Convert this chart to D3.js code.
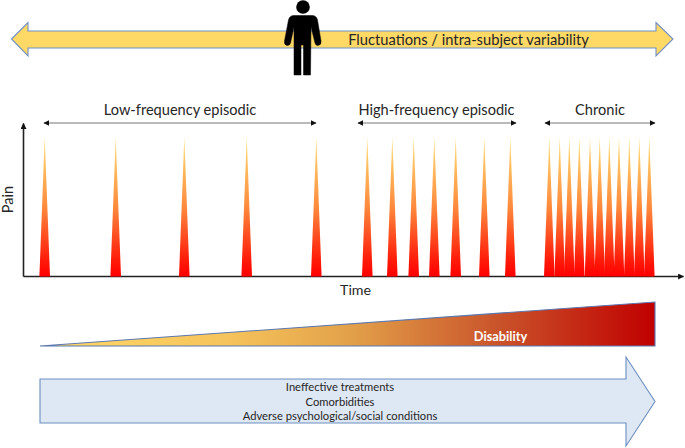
<!DOCTYPE html>
<html lang="en">
<head>
<meta charset="UTF-8">
<title>Pain frequency and disability</title>
<script src="https://d3js.org/d3.v7.min.js"></script>
<style>
    html, body { margin: 0; padding: 0; background: #fff; }
    svg { display: block; }
    text { font-family: Lato, "Open Sans", sans-serif; fill: #262626; }
    .axis path { stroke: #222; stroke-width: 1.6px; }
</style>
</head>
<body>
<div id="chart"></div>
<script>
    // time of each pain episode (x axis has no units)
    const lowEpisodes = [21.7, 92.7, 161.3, 223.7, 293.3];
    const highEpisodes = [344.3, 369.3, 390.7, 411.3, 432.7, 461.3, 487.3];
    const chronicEpisodes = [526.3, 536.7, 546.3, 556.3, 567, 576.7, 586.3, 596, 606.3, 616.3, 626.3];
    const peakPain = 10;

    const phaseNames = ["Low-frequency episodic", "High-frequency episodic", "Chronic"];
    const phaseStart = [21, 335, 522];
    const phaseEnd = [293, 493, 632];

    const factors = ["Ineffective treatments", "Comorbidities", "Adverse psychological/social conditions"];

    const width = 685, height = 448;
    const svg = d3.select("#chart").append("svg")
        .attr("width", width)
        .attr("height", height);
    const defs = svg.append("defs");

    const x = d3.scaleLinear().domain([0, 660]).range([23, 683]);
    const y = d3.scaleLinear().domain([0, 10]).range([276.5, 137]);

    // gradients
    function gradient(id, coords, stops) {
        const g = defs.append("linearGradient")
            .attr("id", id)
            .attr("gradientUnits", "userSpaceOnUse")
            .attr("x1", coords[0]).attr("y1", coords[1])
            .attr("x2", coords[2]).attr("y2", coords[3]);
        stops.forEach(s => g.append("stop")
            .attr("offset", s[0])
            .attr("stop-color", s[1]));
    }
    gradient("spikeFill", [0, y(0), 0, y(peakPain)], [[0, "#ff0000"], [0.12, "#ff1c0a"], [0.5, "#ff8a3c"], [1, "#ffe27a"]]);
    gradient("disabilityFill", [40, 0, 655, 0], [[0, "#ffd966"], [0.3, "#f6c45c"], [0.5, "#e3a24a"], [0.75, "#c9522a"], [1, "#c00000"]]);

    // small arrow heads
    function marker(id, orient) {
        defs.append("marker")
            .attr("id", id)
            .attr("viewBox", "0 0 10 10")
            .attr("refX", 9).attr("refY", 5)
            .attr("markerUnits", "userSpaceOnUse")
            .attr("markerWidth", 6).attr("markerHeight", 6)
            .attr("orient", orient)
            .append("path")
            .attr("d", "M0,0L10,5L0,10Z")
            .attr("fill", "#111");
    }
    marker("headEnd", "auto");
    marker("headStart", "auto-start-reverse");

    function polygon(points, fill, stroke) {
        return svg.append("path")
            .attr("d", d3.line()(points) + "Z")
            .attr("fill", fill)
            .attr("stroke", stroke)
            .attr("stroke-width", 1.1);
    }

    // top arrow
    polygon([[11.5, 39], [28, 22.5], [28, 31], [656, 31], [656, 22.5], [673, 39], [656, 56], [656, 48], [28, 48], [28, 56]],
        "#ffd966", "#6f8fc6");

    // person
    svg.append("circle").attr("cx", 303).attr("cy", 7).attr("r", 6.8).attr("fill", "#000");
    svg.append("path")
        .attr("fill", "#000")
        .attr("stroke", "#000")
        .attr("stroke-width", 0.5)
        .attr("stroke-linejoin", "round")
        .attr("d", "M294,15.5 L312,15.5 Q316.5,15.5 317.5,20 L321,41 Q321.5,45 318,45.5 Q315.5,45.5 315,43 L311,27 L310.5,75 L303.5,75 L303.5,45 L301,45 L301,75 L294,75 L294,27 L290.5,43 Q290,45.5 287,45.5 Q284,45 284.5,41 L288.5,20 Q289.5,15.5 294,15.5 Z");

    svg.append("text")
        .attr("x", 468.5).attr("y", 44.5)
        .attr("text-anchor", "middle")
        .attr("font-size", 14.7)
        .text("Fluctuations / intra-subject variability");

    // phase brackets
    phaseNames.forEach((name, i) => {
        svg.append("line")
            .attr("x1", x(phaseStart[i])).attr("x2", x(phaseEnd[i]))
            .attr("y1", 123).attr("y2", 123)
            .attr("stroke", "#777")
            .attr("stroke-width", 1)
            .attr("marker-start", "url(#headStart)")
            .attr("marker-end", "url(#headEnd)");
        svg.append("text")
            .attr("x", x((phaseStart[i] + phaseEnd[i]) / 2) + (i == 0 ? 0 : i == 1 ? -0.5 : 0))
            .attr("y", 115)
            .attr("text-anchor", "middle")
            .attr("font-size", 14.6)
            .text(name);
    });

    // axes
    const xAxis = svg.append("g")
        .attr("class", "axis")
        .attr("transform", `translate(0,${y(0) - 0.5})`)
        .call(d3.axisBottom(x).tickValues([]).tickSizeOuter(0));
    xAxis.select("path").attr("marker-end", "url(#headEnd)");

    const yAxis = svg.append("g")
        .attr("class", "axis")
        .attr("transform", `translate(${x(0)},0)`)
        .call(d3.axisLeft(d3.scaleLinear().domain([0, 10]).range([276, 123])).tickValues([]).tickSizeOuter(0));
    yAxis.select("path").attr("marker-end", "url(#headEnd)");

    // pain spikes
    const spikeWidth = 5.3;
    const episodes = lowEpisodes.concat(highEpisodes, chronicEpisodes);
    svg.append("g").selectAll("path")
        .data(episodes)
        .enter().append("path")
        .attr("fill", "url(#spikeFill)")
        .attr("d", d => d3.line()([[x(d) - spikeWidth, y(0)], [x(d), y(peakPain)], [x(d) + spikeWidth, y(0)]]) + "Z");

    svg.append("text")
        .attr("x", 355.5).attr("y", 295)
        .attr("text-anchor", "middle")
        .attr("font-size", 14.2)
        .text("Time");

    svg.append("text")
        .attr("transform", "translate(12.5,199.5) rotate(-90)")
        .attr("text-anchor", "middle")
        .attr("font-size", 14.6)
        .text("Pain");

    // disability wedge
    polygon([[40, 346], [655, 302], [655, 346]], "url(#disabilityFill)", "#5b78b0");

    svg.append("text")
        .attr("x", 500.5).attr("y", 340.5)
        .attr("text-anchor", "middle")
        .attr("font-size", 12.8)
        .attr("font-weight", 700)
        .style("fill", "#fff")
        .text("Disability");

    // bottom arrow
    polygon([[40, 379], [626, 379], [626, 357], [655, 401.5], [626, 446], [626, 423], [40, 423]], "#dee8f5", "#6c8ebf");

    svg.append("g").selectAll("text")
        .data(factors)
        .enter().append("text")
        .attr("x", 340)
        .attr("y", (d, i) => 391 + i * 14.6)
        .attr("text-anchor", "middle")
        .attr("font-size", 11.2)
        .text(d => d);
</script>
</body>
</html>
